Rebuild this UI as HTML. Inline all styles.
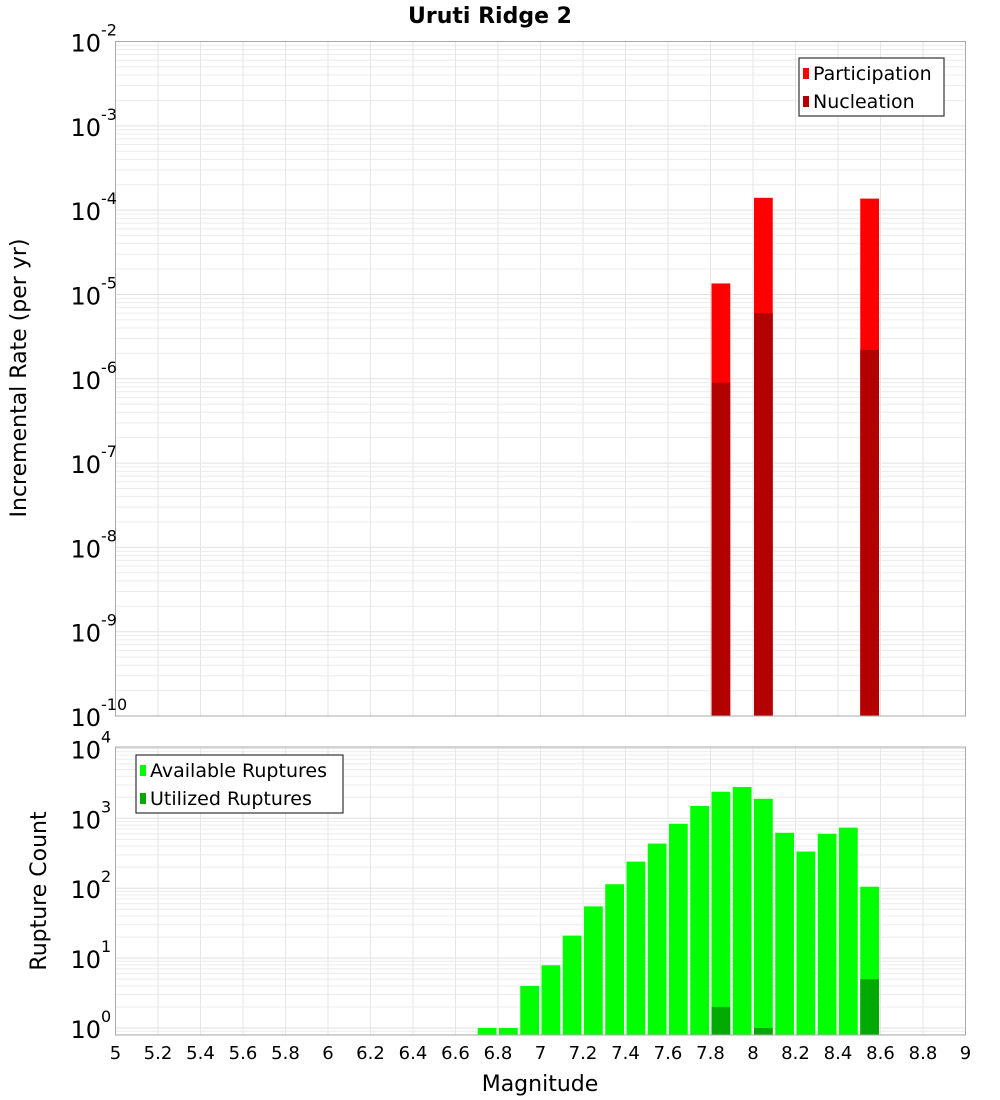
<!DOCTYPE html>
<html><head><meta charset="utf-8"><style>
body{margin:0;background:#fff;}
svg{display:block;font-family:"Liberation Sans","DejaVu Sans",sans-serif;}
</style></head><body>
<svg id="chart" width="1000" height="1100">
<text x="490" y="23" text-anchor="middle" font-weight="bold" font-size="22" font-family="DejaVu Sans, sans-serif">Uruti Ridge 2</text>
<g id="top"></g><g id="bot"></g>
<text transform="translate(26,378) rotate(-90)" text-anchor="middle" font-size="22" font-family="DejaVu Sans, sans-serif">Incremental Rate (per yr)</text>
<text transform="translate(46,891) rotate(-90)" text-anchor="middle" font-size="22" font-family="DejaVu Sans, sans-serif">Rupture Count</text>
<text x="540" y="1091" text-anchor="middle" font-size="22" font-family="DejaVu Sans, sans-serif">Magnitude</text>
</svg>
<script>
const xTicks=[5,5.2,5.4,5.6,5.8,6,6.2,6.4,6.6,6.8,7,7.2,7.4,7.6,7.8,8,8.2,8.4,8.6,8.8,9];
const topMags=[7.85,8.05,8.55];
const participation=[1.35e-5,1.4e-4,1.37e-4];
const nucleation=[9e-7,6e-6,2.2e-6];
const countMags=[6.75,6.85,6.95,7.05,7.15,7.25,7.35,7.45,7.55,7.65,7.75,7.85,7.95,8.05,8.15,8.25,8.35,8.45,8.55];
const available=[1,1,4,7.9,21,55,114,240,435,835,1500,2400,2800,1900,620,335,600,735,105];
const utilizedMags=[7.85,8.05,8.55];
const utilized=[2,1,5];
const topExps=[-2,-3,-4,-5,-6,-7,-8,-9,-10];
const botExps=[4,3,2,1,0];

const NS="http://www.w3.org/2000/svg";
const X0=115.5,X1=965.5;
const xs=m=>X0+(m-5)/4*(X1-X0);
function mk(p,t,a){const e=document.createElementNS(NS,t);for(const k in a)e.setAttribute(k,a[k]);p.appendChild(e);return e;}
function panel(g,top,bot,lmax,lmin,name){
  const ys=v=>top+(lmax-Math.log10(v))/(lmax-lmin)*(bot-top);
  for(let d=Math.floor(lmin);d<lmax;d++){for(let k=1;k<10;k++){const y=ys(k*Math.pow(10,d));if(y>=top&&y<=bot){
    const l=mk(g,'line',{x1:X0,x2:X1,y1:y,y2:y,stroke:k==1?'#e2e2e2':'#ececec','stroke-width':1});
    
    }}}
  xTicks.forEach(t=>{const x=xs(t);
    const l=mk(g,'line',{x1:x,x2:x,y1:top,y2:bot,stroke:'#e6e6e6','stroke-width':1});
    
    });
  return ys;
}
function bar(g,m,v,ys,base,fill,name){
  const bw=(X1-X0)/40;const y=ys(v);
  const r=mk(g,'rect',{x:xs(m)-bw/2+1,y:y,width:bw-2.5,height:base-y,fill:fill});
  
  
}
function frame(g,top,bot){const r=mk(g,'rect',{x:X0,y:top,width:X1-X0,height:bot-top,fill:'none',stroke:'#aaa','stroke-width':1});
  
  }
function ylabels(g,exps,ys){exps.forEach(e=>{const y=ys(Math.pow(10,e));
  const t=mk(g,'text',{x:101,y:y+10,'text-anchor':'end','font-size':24,'font-family':'DejaVu Sans, sans-serif'});t.textContent='10';
  
  
  const s=mk(g,'text',{x:101,y:y-6,'font-size':16,'font-family':'DejaVu Sans, sans-serif'});s.textContent=String(e);
  
  });}
function legend(g,x,y,w,items){const b=mk(g,'rect',{x:x,y:y,width:w,height:58,fill:'#fff',stroke:'#333','stroke-width':1.2});
  
  
  items.forEach((it,i)=>{const yy=y+15+i*28;
    const s=mk(g,'rect',{x:x+4,y:yy-5,width:6,height:11,fill:it[1]});
    
    
    const t=mk(g,'text',{x:x+14,y:yy+7,'font-size':19,'font-family':'DejaVu Sans, sans-serif'});t.textContent=it[0];
    
    });}

const gt=document.getElementById('top');
const T0=41.5,T1=716;
const yt=panel(gt,T0,T1,-2,-10,'top');
topMags.forEach((m,i)=>bar(gt,m,participation[i],yt,T1,'#ff0000','participation-bar'));
topMags.forEach((m,i)=>bar(gt,m,nucleation[i],yt,T1,'#b30000','nucleation-bar'));
frame(gt,T0,T1);ylabels(gt,topExps,yt);
legend(gt,799,58,145,[['Participation','#ff0000'],['Nucleation','#b30000']]);

const gb=document.getElementById('bot');
const B0=747,B1=1035;
const yb=panel(gb,B0,B1,4.02,-0.1,'bot');
countMags.forEach((m,i)=>bar(gb,m,available[i],yb,B1,'#00ff00','available-bar'));
utilizedMags.forEach((m,i)=>bar(gb,m,utilized[i],yb,B1,'#00aa00','utilized-bar'));
frame(gb,B0,B1);ylabels(gb,botExps,yb);
legend(gb,136,755,207,[['Available Ruptures','#00ff00'],['Utilized Ruptures','#00aa00']]);
xTicks.forEach(t=>{const e=mk(gb,'text',{x:xs(t),y:1059,'text-anchor':'middle','font-size':18,'font-family':'DejaVu Sans, sans-serif'});
  e.textContent=String(t);
  
  });
</script>
</body></html>
